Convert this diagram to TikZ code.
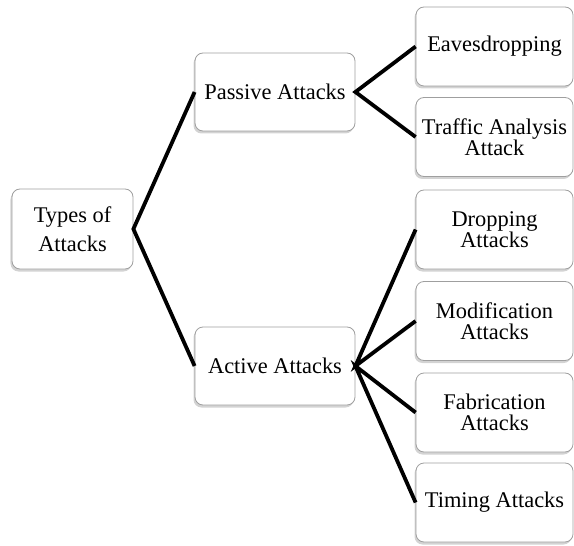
\documentclass[tikz,border=0pt]{standalone}
\usepackage{fontspec}
\setmainfont{Liberation Serif}
\usetikzlibrary{shadows}
\begin{document}
\begin{tikzpicture}[x=1bp,y=-1bp,
  box/.style={draw=gray!75, line width=0.8bp, fill=white, rounded corners=8bp,
    align=center, inner sep=0pt,
    font=\fontsize{22.5}{21}\selectfont,
    drop shadow={opacity=0.35, shadow xshift=-1.5bp, shadow yshift=-2.5bp}},
  rootbox/.style={box, minimum width=121bp, minimum height=80bp, font=\fontsize{22.5}{29}\selectfont},
  midbox/.style={box, minimum width=160bp, minimum height=78bp},
  leafbox/.style={box, minimum width=157bp, minimum height=79bp},
  link/.style={line width=3.8bp, black}]
\useasboundingbox (0,0) rectangle (574,546);
\node[rootbox] (types) at (72.5,229) {Types of\\Attacks};
\node[midbox] (passive) at (275,92) {Passive Attacks};
\node[midbox] (active) at (275,366) {Active Attacks};
\node[leafbox] (eaves) at (494.5,46.5) {Eavesdropping};
\node[leafbox] (traffic) at (494.5,137) {Traffic Analysis\\Attack};
\node[leafbox] (dropping) at (494.5,229.5) {Dropping\\Attacks};
\node[leafbox] (modif) at (494.5,321) {Modification\\Attacks};
\node[leafbox] (fabric) at (494.5,412.5) {Fabrication\\Attacks};
\node[leafbox] (timing) at (494.5,502.5) {Timing Attacks};
\draw[link] (passive.west) -- (types.east) -- (active.west);
\draw[link] (eaves.west) -- (passive.east) -- (traffic.west);
\draw[link] (dropping.west) -- (active.east) -- (modif.west);
\draw[link] (fabric.west) -- (active.east) -- (timing.west);
\end{tikzpicture}
\end{document}
